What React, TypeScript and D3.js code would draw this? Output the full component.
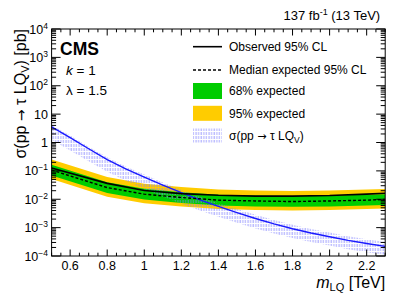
import * as d3 from 'd3'

// mass points for the limit curves (TeV)
const massPoints = [0.5, 0.8, 1.0, 1.2, 1.4, 1.6, 1.8, 2.0, 2.2, 2.3]
const observed = [0.126, 0.0363, 0.0204, 0.0158, 0.0138, 0.0129, 0.0129, 0.0135, 0.0151, 0.0162]
const expected = [0.107, 0.0257, 0.0151, 0.0115, 0.0093, 0.0087, 0.0083, 0.0087, 0.0093, 0.0098]
const green68Up = [0.166, 0.0398, 0.0234, 0.0178, 0.0145, 0.0135, 0.0129, 0.0135, 0.0145, 0.0151]
const green68Down = [0.069, 0.0166, 0.0098, 0.0074, 0.006, 0.0056, 0.0054, 0.0056, 0.006, 0.0063]
const yellow95Up = [0.251, 0.0603, 0.0355, 0.0269, 0.0219, 0.0204, 0.0195, 0.0204, 0.0219, 0.0229]
const yellow95Down = [0.0513, 0.0123, 0.0072, 0.0055, 0.0045, 0.0042, 0.004, 0.0042, 0.0045, 0.0047]

// theory cross section
const theoryMass = [0.5, 0.6, 0.7, 0.8, 0.9, 1.0, 1.1, 1.2, 1.3, 1.4, 1.5, 1.6, 1.7, 1.8, 1.9, 2.0, 2.1, 2.2, 2.3]
const theory = [3.55, 1.48, 0.603, 0.251, 0.117, 0.0603, 0.0316, 0.017, 0.00955, 0.00562, 0.00339, 0.00209,
  0.00135, 0.000912, 0.000646, 0.000479, 0.000355, 0.000275, 0.000219]
const theoryUp = [4.1, 1.75, 0.71, 0.3, 0.142, 0.074, 0.039, 0.0214, 0.0122, 0.0073, 0.0045, 0.00284,
  0.00186, 0.00126, 0.0009, 0.00068, 0.0005, 0.00039, 0.00031]
const theoryDown = [1.26, 0.525, 0.219, 0.0933, 0.0447, 0.0234, 0.0126, 0.00692, 0.00398, 0.0024, 0.00148,
  0.000933, 0.000617, 0.000427, 0.000309, 0.000234, 0.000174, 0.000135, 0.00011]

const xMajorLabels = [0.6, 0.8, 1, 1.2, 1.4, 1.6, 1.8, 2, 2.2]
const yDecades = [-4, -3, -2, -1, 0, 1, 2, 3, 4]

const W = 407
const H = 294
const left = 51.6
const right = 385.2
const top = 29
const bottom = 256
const font = 'Liberation Sans, Arial, Helvetica, sans-serif'

export default function App() {
  const x = d3.scaleLinear().domain([0.5, 2.3]).range([left, right])
  const y = d3.scaleLog().domain([1e-4, 1e4]).range([bottom, top])

  const band = (up: number[], down: number[], ms: number[]) =>
    d3.area<number>()
      .x((_, i) => x(ms[i]))
      .y0((_, i) => y(down[i]))
      .y1((d) => y(d))(up) || ''

  const line = (vals: number[], ms: number[]) =>
    d3.line<number>()
      .x((_, i) => x(ms[i]))
      .y((d) => y(d))(vals) || ''

  const yTicks = y.ticks()
  const xTicks = x.ticks(36)
  const isMajorX = (t: number) => Math.abs(Math.round(t / 0.2) * 0.2 - t) < 1e-6

  const yLabel = (d: number) => {
    if (d === 0) return <tspan>1</tspan>
    if (d === 1) return <tspan>10</tspan>
    return (
      <>
        <tspan>10</tspan>
        <tspan dy={-5} fontSize={8.5}>{String(d).replace('-', '\u2212')}</tspan>
      </>
    )
  }

  const legX0 = 193
  const legX1 = 222
  const legText = 229
  const legRows = [46.7, 70, 91, 113.3, 135.5]

  return (
    <svg width={W} height={H} style={{ position: 'absolute', left: 0, top: 0 }} fontFamily={font}>
      <defs>
        <pattern id="hatch" patternUnits="userSpaceOnUse" width={2.6} height={4}>
          <line x1={1} x2={1} y1={0} y2={3} stroke="#8080ff" strokeWidth={1} />
        </pattern>
        <clipPath id="plot">
          <rect x={left} y={top} width={right - left} height={bottom - top} />
        </clipPath>
      </defs>
      <rect width={W} height={H} fill="#fff" />

      <g clipPath="url(#plot)">
        <path d={band(yellow95Up, yellow95Down, massPoints)} fill="#ffcc00" />
        <path d={band(green68Up, green68Down, massPoints)} fill="#00cc00" />
        <path d={band(theoryUp, theoryDown, theoryMass)} fill="url(#hatch)" opacity={0.7} />
        <path d={line(theory, theoryMass)} fill="none" stroke="#1a1aff" strokeWidth={1.4} />
        <path d={line(expected, massPoints)} fill="none" stroke="#000" strokeWidth={1.4} strokeDasharray="3,2" />
        <path d={line(observed, massPoints)} fill="none" stroke="#000" strokeWidth={1.6} />
      </g>

      {/* frame and ticks */}
      <rect x={left} y={top} width={right - left} height={bottom - top} fill="none" stroke="#000" strokeWidth={1} />
      {yTicks.map((t, i) => {
        const major = Math.abs(Math.log10(t) - Math.round(Math.log10(t))) < 1e-6
        const len = major ? 9 : 4.5
        return (
          <g key={'y' + i} stroke="#000" strokeWidth={1}>
            <line x1={left} x2={left + len} y1={y(t)} y2={y(t)} />
            <line x1={right} x2={right - len} y1={y(t)} y2={y(t)} />
          </g>
        )
      })}
      {xTicks.map((t, i) => {
        const len = isMajorX(t) ? 6.5 : 3.3
        return (
          <g key={'x' + i} stroke="#000" strokeWidth={1}>
            <line x1={x(t)} x2={x(t)} y1={bottom} y2={bottom - len} />
            <line x1={x(t)} x2={x(t)} y1={top} y2={top + len} />
          </g>
        )
      })}

      {/* tick labels */}
      {xMajorLabels.map((t) => (
        <text key={'xl' + t} x={x(t)} y={270} textAnchor="middle" fontSize={12.5} fill="#000">
          {d3.format('~g')(t)}
        </text>
      ))}
      {yDecades.map((d) => (
        <text key={'yl' + d} x={48} y={y(Math.pow(10, d)) + 4.5} textAnchor="end" fontSize={12.5} fill="#000">
          {yLabel(d)}
        </text>
      ))}

      {/* axis titles */}
      <text x={right} y={288} textAnchor="end" fontSize={16} fill="#000">
        <tspan fontStyle="italic">m</tspan>
        <tspan fontSize={11} dy={3}>LQ</tspan>
        <tspan dy={-3}> [TeV]</tspan>
      </text>
      <text transform={`translate(26,${top}) rotate(-90)`} textAnchor="end" fontSize={16} fill="#000">
        <tspan>σ(pp</tspan>
        <tspan fontFamily="DejaVu Sans" fontSize={14}> → </tspan>
        <tspan>τ LQ</tspan>
        <tspan fontSize={11} dy={3}>V</tspan>
        <tspan dy={-3}>) [pb]</tspan>
      </text>

      <text x={right - 5} y={20} textAnchor="end" fontSize={13} fill="#000">
        <tspan>137 fb</tspan>
        <tspan fontSize={9} dy={-5}>-1</tspan>
        <tspan dy={5}> (13 TeV)</tspan>
      </text>

      <text x={60} y={55} fontSize={17.5} fontWeight="bold" fill="#000">CMS</text>
      <text x={66} y={75} fontSize={13.5} fill="#000">
        <tspan fontStyle="italic">k</tspan> = 1
      </text>
      <text x={66} y={95} fontSize={13.5} fill="#000">λ = 1.5</text>

      {/* legend */}
      <line x1={legX0} x2={legX1} y1={legRows[0]} y2={legRows[0]} stroke="#000" strokeWidth={1.6} />
      <line x1={legX0} x2={legX1} y1={legRows[1]} y2={legRows[1]} stroke="#000" strokeWidth={1.4} strokeDasharray="3,2" />
      <rect x={legX0} y={legRows[2] - 8} width={legX1 - legX0} height={16} fill="#00cc00" />
      <rect x={legX0} y={legRows[3] - 7.5} width={legX1 - legX0} height={15} fill="#ffcc00" />
      <rect x={legX0} y={legRows[4] - 7} width={legX1 - legX0} height={14} fill="url(#hatch)" opacity={0.7} />
      {['Observed 95% CL', 'Median expected 95% CL', '68% expected', '95% expected'].map((s, i) => (
        <text key={s} x={legText} y={legRows[i] + 4.3} fontSize={12} fill="#000">{s}</text>
      ))}
      <text x={legText} y={legRows[4] + 4.3} fontSize={12} fill="#000">
        <tspan>σ(pp</tspan>
        <tspan fontFamily="DejaVu Sans" fontSize={11}> → </tspan>
        <tspan>τ LQ</tspan>
        <tspan fontSize={8.5} dy={3}>V</tspan>
        <tspan dy={-3}>)</tspan>
      </text>
    </svg>
  )
}
